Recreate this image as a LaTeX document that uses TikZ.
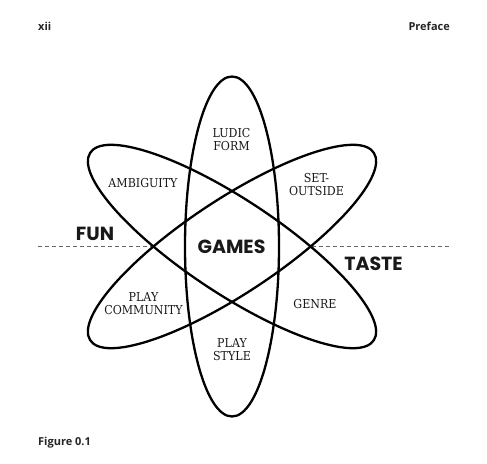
\documentclass[tikz,border=0pt]{standalone}
\usepackage{fontspec}
\newfontfamily\slabfont{DejaVu Serif Condensed}
\newfontfamily\gfont{Poppins}
\newfontfamily\hfont{Open Sans}
\tikzset{
  orbit/.style={draw=black, line width=2.3pt},
  lbl/.style={font=\slabfont\fontsize{12.3}{13}\selectfont, align=center, inner sep=0pt, text=black!90},
  big/.style={font=\gfont\bfseries\fontsize{19}{19}\selectfont, inner sep=0pt, text=black!90},
  head/.style={font=\hfont\bfseries\fontsize{11}{13}\selectfont, inner sep=0pt, text=black!85},
  axis/.style={draw=black!60, line width=0.8pt, dash pattern=on 4pt off 3pt}
}
\begin{document}
\begin{tikzpicture}[x=1pt,y=-1pt]
\useasboundingbox (0,0) rectangle (487,463);
\fill[white] (0,0) rectangle (487,463);
% header and caption
\node[head, anchor=west] (xii) at (38,26) {xii};
\node[head, anchor=east] (pref) at (450,26) {Preface};
\node[head, anchor=west] (fig) at (38,443) {Figure 0.1};
% dashed axis
\coordinate (l0) at (38,246.5);
\coordinate (l1) at (152.5,246.5);
\coordinate (r0) at (311.5,246.5);
\coordinate (r1) at (450,246.5);
\draw[axis] (l0) -- (l1);
\draw[axis] (r0) -- (r1);
% orbits
\draw[orbit] (232,246.5) ellipse [x radius=47, y radius=170];
\draw[orbit, shift={(232,246.5)}, rotate=-33.5] (0,0) ellipse [x radius=170, y radius=47];
\draw[orbit, shift={(232,246.5)}, rotate=33.5] (0,0) ellipse [x radius=170, y radius=47];
% labels
\node[lbl] (ludic) at (231.5,139.5) {LUDIC\\FORM};
\node[lbl] (amb) at (143,183.5) {AMBIGUITY};
\node[lbl] (set) at (316.5,184.5) {SET-\\OUTSIDE};
\node[lbl] (pc) at (143.5,304) {PLAY\\COMMUNITY};
\node[lbl] (genre) at (315,304) {GENRE};
\node[lbl] (ps) at (232,350) {PLAY\\STYLE};
\node[big] (games) at (231.5,246.5) {GAMES};
\node[big] (fun) at (95,234) {FUN};
\node[big] (taste) at (373.5,264) {TASTE};
\end{tikzpicture}
\end{document}
